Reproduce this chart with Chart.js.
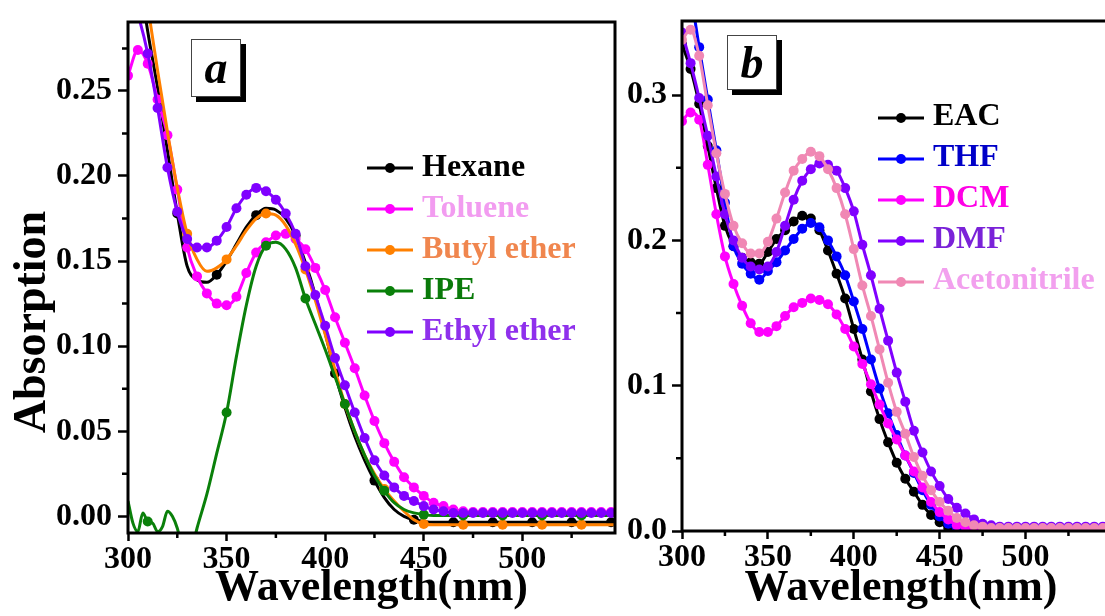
<!DOCTYPE html>
<html lang="en">
<head>
  <meta charset="UTF-8" />
  <title>UV-Vis absorption in different solvents</title>
  <script src="https://cdn.jsdelivr.net/npm/chart.js"></script>
  <style>
    body {
      margin: 0;
      background: #fff;
      width: 1105px;
      height: 616px;
      overflow: hidden;
      position: relative;
    }
    canvas { position: absolute; top: 0; }
    #chartA { left: 0; }
    #chartB { left: 620px; }
  </style>
</head>
<body>
  <canvas id="chartA" width="620" height="616"></canvas>
  <canvas id="chartB" width="505" height="616"></canvas>

  <script>
    // wavelength grid (nm) shared by most spectra
    const wavelengths = [300, 305, 310, 315, 320, 325, 330, 335, 340, 345,
      350, 355, 360, 365, 370, 375, 380, 385, 390, 395,
      400, 405, 410, 415, 420, 425, 430, 435, 440, 445,
      450, 455, 460, 465, 470, 475, 480, 485, 490, 495,
      500, 505, 510, 515, 520, 525, 530, 535, 540, 545, 550, 555];

    // IPE has a noisy start, so it gets a finer grid there
    const ipeWavelengths = [300, 302.5, 305, 307.5, 310, 312.5, 315, 317.5, 320, 322.5, 325,
      330, 335, 340, 345, 350, 355, 360, 365, 370, 375, 380, 385, 390, 395,
      400, 405, 410, 415, 420, 425, 430, 435, 440, 445, 450, 455, 460, 465, 470, 475,
      480, 485, 490, 495, 500, 505, 510, 515, 520, 525, 530, 535, 540, 545, 550, 555];

    // panel a: non-polar / ether solvents
    const hexane = [0.37, 0.325, 0.285, 0.252, 0.215, 0.178, 0.147, 0.139, 0.1375, 0.142,
      0.150, 0.160, 0.170, 0.177, 0.181, 0.180, 0.175, 0.165, 0.149, 0.130,
      0.108, 0.084, 0.064, 0.047, 0.033, 0.021, 0.011, 0.004, 0.000, -0.002,
      -0.003, -0.0035, -0.0035, -0.0035, -0.0035, -0.0035, -0.0035, -0.0035, -0.0035, -0.0035,
      -0.0035, -0.0035, -0.0035, -0.0035, -0.0035, -0.0035, -0.0035, -0.0035, -0.0035, -0.0035, -0.0035, -0.0035];

    const toluene = [0.259, 0.274, 0.266, 0.245, 0.224, 0.192, 0.158, 0.141, 0.131, 0.125,
      0.124, 0.129, 0.143, 0.155, 0.161, 0.165, 0.166, 0.163, 0.157, 0.146,
      0.133, 0.117, 0.102, 0.087, 0.071, 0.056, 0.043, 0.032, 0.023, 0.017,
      0.012, 0.008, 0.006, 0.004, 0.003, 0.0025, 0.0025, 0.0025, 0.0025, 0.0025,
      0.0025, 0.0025, 0.0025, 0.0025, 0.0025, 0.0025, 0.0025, 0.0025, 0.0025, 0.0025, 0.0025, 0.0025];

    const butylEther = [0.38, 0.34, 0.30, 0.262, 0.226, 0.193, 0.166, 0.151, 0.144, 0.146,
      0.151, 0.159, 0.168, 0.175, 0.178, 0.177, 0.171, 0.160, 0.145, 0.127,
      0.107, 0.086, 0.066, 0.050, 0.036, 0.025, 0.016, 0.009, 0.003, -0.002,
      -0.0045, -0.005, -0.005, -0.005, -0.005, -0.005, -0.005, -0.005, -0.005, -0.005,
      -0.005, -0.005, -0.005, -0.005, -0.005, -0.005, -0.005, -0.005, -0.005, -0.005, -0.005, -0.005];

    const ipe = [0.009, -0.004, -0.009, 0.002, -0.003, -0.004, -0.009, -0.006, 0.003, 0.000, -0.007,
      -0.03, -0.007, 0.013, 0.037, 0.061, 0.094, 0.124, 0.147, 0.159, 0.161, 0.157, 0.146, 0.128, 0.113,
      0.098, 0.082, 0.066, 0.050, 0.036, 0.024, 0.015, 0.008, 0.004, 0.002, 0.001, 0.0005, 0.0005, 0.0005, 0.0005, 0.0005,
      0.0005, 0.0005, 0.0005, 0.0005, 0.0005, 0.0005, 0.0005, 0.0005, 0.0005, 0.0005, 0.0005, 0.0005, 0.0005, 0.0005, 0.0005, 0.0005];

    const ethylEther = [0.31, 0.295, 0.272, 0.240, 0.205, 0.179, 0.163, 0.158, 0.158, 0.162,
      0.170, 0.181, 0.189, 0.193, 0.191, 0.186, 0.178, 0.166, 0.147, 0.130,
      0.112, 0.093, 0.077, 0.061, 0.046, 0.033, 0.024, 0.017, 0.012, 0.009,
      0.006, 0.004, 0.003, 0.002, 0.002, 0.002, 0.002, 0.002, 0.002, 0.002,
      0.002, 0.002, 0.002, 0.002, 0.002, 0.002, 0.002, 0.002, 0.002, 0.002, 0.002, 0.002];

    // panel b: polar solvents
    const eac = [0.335, 0.318, 0.294, 0.265, 0.236, 0.210, 0.196, 0.188, 0.185, 0.184,
      0.192, 0.201, 0.207, 0.213, 0.217, 0.215, 0.207, 0.193, 0.177, 0.160,
      0.139, 0.118, 0.096, 0.077, 0.061, 0.047, 0.036, 0.027, 0.018, 0.011,
      0.006, 0.002, 0.0005, 0, 0, 0, 0, 0, 0, 0,
      0, 0, 0, 0, 0, 0, 0, 0, 0, 0, 0, 0];

    const thf = [0.40, 0.37, 0.333, 0.297, 0.262, 0.226, 0.196, 0.184, 0.177, 0.173,
      0.179, 0.185, 0.193, 0.201, 0.208, 0.212, 0.209, 0.200, 0.189, 0.176,
      0.158, 0.139, 0.118, 0.098, 0.081, 0.066, 0.052, 0.040, 0.028, 0.018,
      0.010, 0.005, 0.002, 0.001, 0.001, 0.001, 0.001, 0.001, 0.001, 0.001,
      0.001, 0.001, 0.001, 0.001, 0.001, 0.001, 0.001, 0.001, 0.001, 0.001, 0.001, 0.001];

    const dcm = [0.282, 0.288, 0.283, 0.252, 0.218, 0.189, 0.170, 0.155, 0.143, 0.137,
      0.137, 0.141, 0.148, 0.154, 0.157, 0.160, 0.159, 0.156, 0.149, 0.139,
      0.127, 0.115, 0.101, 0.087, 0.074, 0.063, 0.052, 0.041, 0.030, 0.020,
      0.013, 0.008, 0.004, 0.003, 0.002, 0.002, 0.002, 0.002, 0.002, 0.002,
      0.002, 0.002, 0.002, 0.002, 0.002, 0.002, 0.002, 0.002, 0.002, 0.002, 0.002, 0.002];

    const dmf = [0.343, 0.322, 0.298, 0.272, 0.244, 0.218, 0.200, 0.188, 0.182, 0.180,
      0.182, 0.192, 0.210, 0.228, 0.241, 0.249, 0.253, 0.252, 0.248, 0.236,
      0.220, 0.197, 0.176, 0.153, 0.131, 0.109, 0.089, 0.069, 0.054, 0.041,
      0.031, 0.022, 0.016, 0.012, 0.008, 0.005, 0.004, 0.003, 0.003, 0.003,
      0.003, 0.003, 0.003, 0.003, 0.003, 0.003, 0.003, 0.003, 0.003, 0.003, 0.003, 0.003];

    const acetonitrile = [0.338, 0.345, 0.327, 0.293, 0.260, 0.232, 0.210, 0.198, 0.191, 0.191,
      0.199, 0.215, 0.233, 0.248, 0.256, 0.261, 0.258, 0.249, 0.236, 0.218,
      0.194, 0.169, 0.148, 0.125, 0.102, 0.082, 0.067, 0.051, 0.038, 0.028,
      0.020, 0.014, 0.009, 0.006, 0.004, 0.003, 0.002, 0.002, 0.002, 0.002,
      0.002, 0.002, 0.002, 0.002, 0.002, 0.002, 0.002, 0.002, 0.002, 0.002, 0.002, 0.002];

    // axis ticks
    const xMajorA = [300, 350, 400, 450, 500];
    const xMinorA = [325, 375, 425, 475, 525];
    const yMajorA = [0, 0.05, 0.10, 0.15, 0.20, 0.25];
    const yMinorA = [0.025, 0.075, 0.125, 0.175, 0.225, 0.275];
    const xMajorB = [300, 350, 400, 450, 500];
    const xMinorB = [325, 375, 425, 475, 525];
    const yMajorB = [0, 0.1, 0.2, 0.3];
    const yMinorB = [0.05, 0.15, 0.25];

    const serif = '"Liberation Serif", "Times New Roman", serif';
    Chart.defaults.font.family = serif;
    Chart.defaults.color = '#000';

    const DOT = 5;

    function points(xs, ys) {
      return xs.map((x, i) => ({ x: x, y: ys[i] }));
    }

    // markers only every 20 nm for the sparse curves
    function every20(offset) {
      return ctx => (ctx.raw && (ctx.raw.x - offset) % 20 === 0 ? DOT : 0);
    }

    function lineSet(label, xs, ys, color, radius, order) {
      return {
        label: label,
        data: points(xs, ys),
        borderColor: color,
        backgroundColor: color,
        borderWidth: 3,
        pointRadius: radius,
        pointHoverRadius: 0,
        pointBorderWidth: 0,
        cubicInterpolationMode: 'monotone',
        order: order
      };
    }

    function scales(opt) {
      const tickFont = { size: 32, weight: 'bold', lineHeight: 1 };
      return {
        x: {
          type: 'linear',
          min: 300,
          max: opt.xMax,
          afterBuildTicks: s => { s.ticks = opt.xMajor.map(v => ({ value: v })); },
          afterFit: s => { s.height = opt.xHeight; },
          ticks: { font: tickFont, padding: 3, autoSkip: false, maxRotation: 0, callback: v => String(v) },
          grid: { drawOnChartArea: false, tickLength: 8, tickWidth: 2.5, tickColor: '#000' },
          border: { display: false },
          title: {
            display: true,
            text: 'Wavelength(nm)',
            font: { size: 44, weight: 'bold', lineHeight: 1 },
            padding: { top: 0, bottom: 5 }
          }
        },
        y: {
          type: 'linear',
          min: opt.yMin,
          max: opt.yMax,
          afterBuildTicks: s => { s.ticks = opt.yMajor.map(v => ({ value: v })); },
          afterFit: s => { s.width = opt.yWidth; },
          ticks: { font: tickFont, padding: opt.yPad, autoSkip: false, callback: v => v.toFixed(opt.yDigits) },
          grid: { drawOnChartArea: false, tickLength: 10, tickWidth: 2.5, tickColor: '#000' },
          border: { display: false }
        }
      };
    }

    // frame, minor ticks, panel letter and legend
    function decor(opt) {
      return {
        id: 'decor',
        afterDraw(chart) {
          const ctx = chart.ctx;
          const a = chart.chartArea;
          const xs = chart.scales.x, ys = chart.scales.y;
          ctx.save();
          ctx.strokeStyle = '#000';
          ctx.lineWidth = 2.5;
          ctx.beginPath();
          opt.xMinor.forEach(v => {
            const px = xs.getPixelForValue(v);
            ctx.moveTo(px, a.bottom);
            ctx.lineTo(px, a.bottom + 5);
          });
          opt.yMinor.forEach(v => {
            const py = ys.getPixelForValue(v);
            ctx.moveTo(a.left - 6, py);
            ctx.lineTo(a.left, py);
          });
          ctx.stroke();

          ctx.lineWidth = 3;
          ctx.strokeRect(a.left, a.top, a.right - a.left, a.bottom - a.top);

          // panel letter box with drop shadow
          const b = opt.box;
          ctx.fillStyle = '#000';
          ctx.fillRect(b.x + 5, b.y + 5, b.w, b.h);
          ctx.fillStyle = '#fff';
          ctx.fillRect(b.x, b.y, b.w, b.h);
          ctx.lineWidth = 1;
          ctx.strokeStyle = '#444';
          ctx.strokeRect(b.x + 0.5, b.y + 0.5, b.w - 1, b.h - 1);
          ctx.fillStyle = '#000';
          ctx.font = 'italic bold 46px ' + serif;
          ctx.textAlign = 'center';
          ctx.textBaseline = 'alphabetic';
          ctx.fillText(opt.letter, b.x + b.w / 2, b.base);

          // legend
          const L = opt.legend;
          ctx.font = 'bold 32px ' + serif;
          ctx.textAlign = 'left';
          L.items.forEach((it, i) => {
            const y = L.y + i * L.step;
            ctx.strokeStyle = it.color;
            ctx.lineWidth = 3;
            ctx.beginPath();
            ctx.moveTo(L.x, y);
            ctx.lineTo(L.x + 46, y);
            ctx.stroke();
            ctx.fillStyle = it.color;
            ctx.beginPath();
            ctx.arc(L.x + 23, y, DOT, 0, Math.PI * 2);
            ctx.fill();
            ctx.fillStyle = it.text;
            ctx.fillText(it.label, L.x + 55, y + L.base);
          });

          if (opt.yTitle) {
            ctx.translate(opt.yTitle.x, opt.yTitle.y);
            ctx.rotate(-Math.PI / 2);
            ctx.font = 'bold 46px ' + serif;
            ctx.textAlign = 'center';
            ctx.fillStyle = '#000';
            ctx.fillText(opt.yTitle.text, 0, 0);
          }
          ctx.restore();
        }
      };
    }

    const colA = {
      hexane: '#000000', toluene: '#ff00ff', butyl: '#ff8000', ipe: '#0a800a', ethyl: '#8000ff'
    };
    const colB = {
      eac: '#000000', thf: '#0000ff', dcm: '#ff00ff', dmf: '#8000ff', acn: '#f088b4'
    };

    new Chart(document.getElementById('chartA'), {
      type: 'line',
      data: {
        datasets: [
          lineSet('Hexane', wavelengths, hexane, colA.hexane, every20(305), 5),
          lineSet('Toluene', wavelengths, toluene, colA.toluene, DOT, 4),
          lineSet('Butyl ether', wavelengths, butylEther, colA.butyl, every20(310), 3),
          lineSet('IPE', ipeWavelengths, ipe, colA.ipe, every20(310), 2),
          lineSet('Ethyl ether', wavelengths, ethylEther, colA.ethyl, DOT, 1)
        ]
      },
      options: {
        responsive: false,
        animation: false,
        events: [],
        layout: { padding: { left: 0, top: 13, right: 3, bottom: 0 } },
        plugins: { legend: { display: false }, tooltip: { enabled: false } },
        scales: scales({
          xMax: 547, yMin: -0.0098, yMax: 0.2905,
          xMajor: xMajorA, yMajor: yMajorA, yDigits: 2,
          yWidth: 128, xHeight: 83, yPad: 6
        })
      },
      plugins: [decor({
        xMinor: xMinorA, yMinor: yMinorA,
        letter: 'a',
        box: { x: 191, y: 39, w: 50, h: 58, base: 83 },
        legend: {
          x: 367, y: 168, step: 41, base: 8,
          items: [
            { label: 'Hexane', color: colA.hexane, text: '#000000' },
            { label: 'Toluene', color: colA.toluene, text: '#f29cf0' },
            { label: 'Butyl ether', color: colA.butyl, text: '#f0864e' },
            { label: 'IPE', color: colA.ipe, text: '#0a7a0a' },
            { label: 'Ethyl ether', color: colA.ethyl, text: '#8f30ec' }
          ]
        },
        yTitle: { text: 'Absorption', x: 45, y: 322 }
      })]
    });

    new Chart(document.getElementById('chartB'), {
      type: 'line',
      data: {
        datasets: [
          lineSet('EAC', wavelengths, eac, colB.eac, DOT, 5),
          lineSet('THF', wavelengths, thf, colB.thf, DOT, 4),
          lineSet('DCM', wavelengths, dcm, colB.dcm, DOT, 3),
          lineSet('DMF', wavelengths, dmf, colB.dmf, DOT, 2),
          lineSet('Acetonitrile', wavelengths, acetonitrile, colB.acn, DOT, 1)
        ]
      },
      options: {
        responsive: false,
        animation: false,
        events: [],
        layout: { padding: { left: 0, top: 15, right: 3, bottom: 0 } },
        plugins: { legend: { display: false }, tooltip: { enabled: false } },
        scales: scales({
          xMax: 555, yMin: 0, yMax: 0.351,
          xMajor: xMajorB, yMajor: yMajorB, yDigits: 1,
          yWidth: 62, xHeight: 85, yPad: 5
        })
      },
      plugins: [decor({
        xMinor: xMinorB, yMinor: yMinorB,
        letter: 'b',
        box: { x: 107, y: 35, w: 50, h: 55, base: 78 },
        legend: {
          x: 258, y: 118, step: 41, base: 7,
          items: [
            { label: 'EAC', color: colB.eac, text: '#000000' },
            { label: 'THF', color: colB.thf, text: '#0000c8' },
            { label: 'DCM', color: colB.dcm, text: '#ff00e6' },
            { label: 'DMF', color: colB.dmf, text: '#7a22d8' },
            { label: 'Acetonitrile', color: colB.acn, text: '#f2a0ee' }
          ]
        }
      })]
    });
  </script>
</body>
</html>
